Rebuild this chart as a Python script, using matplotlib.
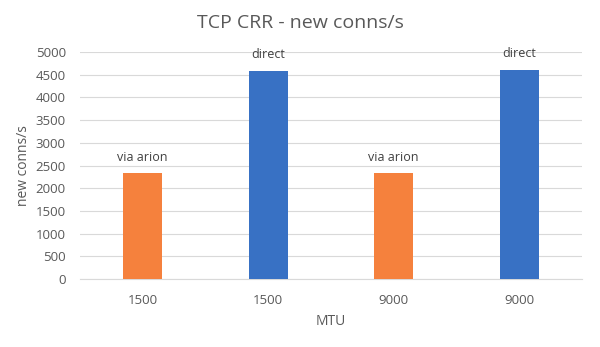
import matplotlib.pyplot as plt

plt.rcParams['font.family'] = ['Open Sans', 'DejaVu Sans']

categories = ["1500", "1500", "9000", "9000"]
values = [2330, 4580, 2330, 4600]
labels = ["via arion", "direct", "via arion", "direct"]
colors = ["#F5813D", "#3871C4", "#F5813D", "#3871C4"]

text_color = "#595959"
grid_color = "#D9D9D9"

fig = plt.figure(figsize=(6, 3.47), dpi=100)
ax = fig.add_axes([0.133, 0.196, 0.837, 0.654])

x = range(len(categories))
bars = ax.bar(x, values, width=0.31, color=colors, zorder=3)

for bar, lab in zip(bars, labels):
    ax.annotate(lab, (bar.get_x() + bar.get_width() / 2, bar.get_height()),
                xytext=(0, 7), textcoords="offset points",
                ha="center", va="bottom", fontsize=9, color="#404040")

ax.set_xlim(-0.5, len(categories) - 0.5)
ax.set_ylim(0, 5000)
ax.set_yticks(range(0, 5001, 500))
ax.set_xticks(list(x))
ax.set_xticklabels(categories)
ax.yaxis.grid(True, color=grid_color, linewidth=0.8, zorder=0)
ax.tick_params(axis="both", length=0, colors=text_color, labelsize=9.5)
ax.tick_params(axis="x", pad=11)
ax.tick_params(axis="y", pad=10)
for side in ["top", "right", "left"]:
    ax.spines[side].set_visible(False)
ax.spines["bottom"].set_color(grid_color)

ax.set_xlabel("MTU", color=text_color, fontsize=10, labelpad=5)
ax.set_ylabel("new conns/s", color=text_color, fontsize=10, labelpad=3)
fig.text(0.5, 0.935, "TCP CRR - new conns/s", ha="center", va="center",
         fontsize=14, color=text_color)

fig.savefig("out.png", dpi=100)
